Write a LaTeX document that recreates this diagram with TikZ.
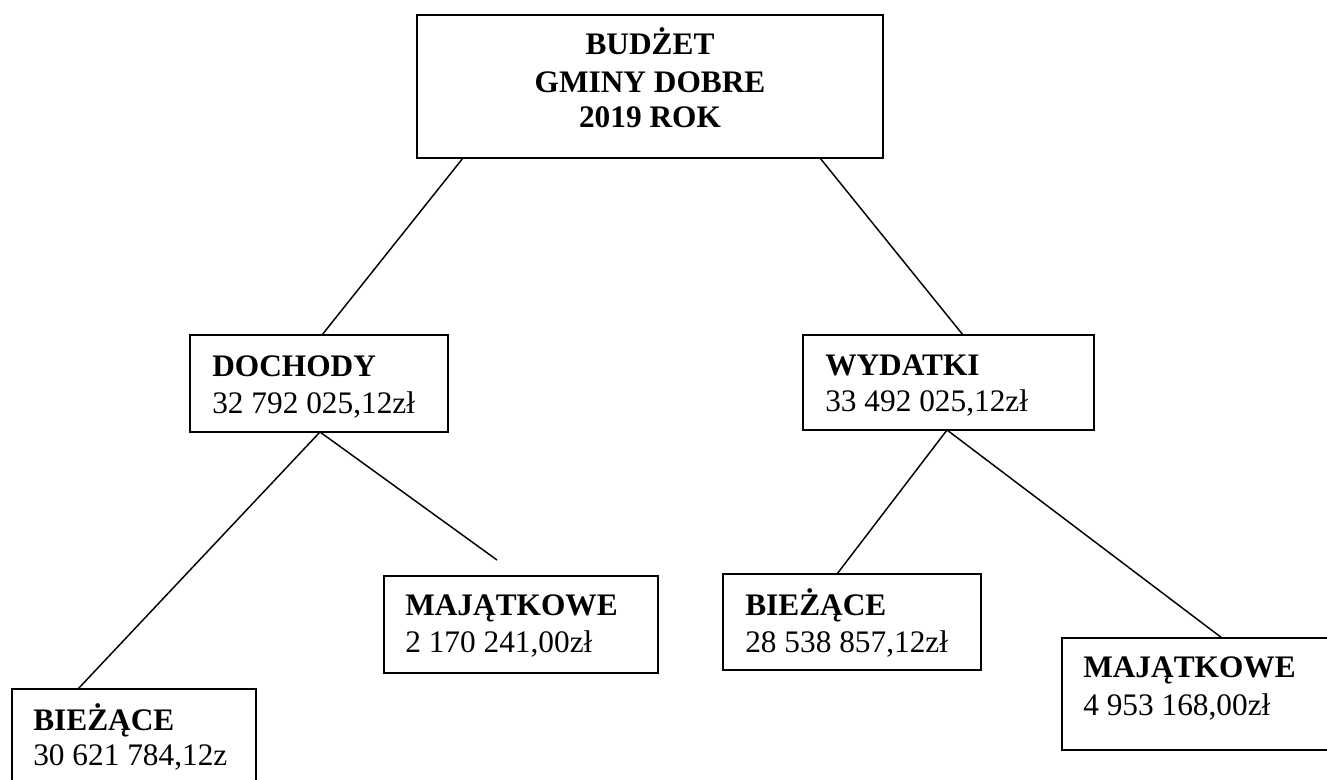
\documentclass[tikz,border=0pt]{standalone}
\usepackage{fontspec}
\setmainfont{Liberation Serif}
\usetikzlibrary{fit}
\begin{document}
\begin{tikzpicture}[x=0.75pt,y=-0.75pt,
  boxst/.style={draw, line width=1.3pt, inner sep=0pt, outer sep=0pt},
  conn/.style={line width=1.1pt},
  txt/.style={anchor=base west, inner sep=0pt, font=\fontsize{23.5}{27}\selectfont},
  btxt/.style={anchor=base west, inner sep=0pt, font=\fontsize{23.5}{27}\selectfont\bfseries},
  ctxt/.style={anchor=base, inner sep=0pt, font=\fontsize{23.5}{27}\selectfont\bfseries}]
\useasboundingbox (0,0) rectangle (1327,780);
\fill[white] (0,0) rectangle (1327,780);
\clip (0,0) rectangle (1327,780);
% boxes
\node[boxst, fit={(417,15)(883,158)}] (top) {};
\node[boxst, fit={(190,335)(448,432)}] (doch) {};
\node[boxst, fit={(803,335)(1094,430)}] (wyd) {};
\node[boxst, fit={(384,576)(658,673)}] (ml) {};
\node[boxst, fit={(723,574)(981,670)}] (br) {};
\node[boxst, fit={(1062,638)(1345,750)}] (mr) {};
\node[boxst, fit={(12,689)(256,805)}] (bl) {};
\coordinate (mlend) at (497,560);
% texts
\node[ctxt] (t1) at (650,55) {BUDŻET};
\node[ctxt] (t2) at (650,93) {GMINY DOBRE};
\node[ctxt] (t3) at (650,128) {2019 ROK};
\node[btxt] (d1) at (212,377) {DOCHODY};
\node[txt] (d2) at (212,413) {32 792 025,12zł};
\node[btxt] (w1) at (825,375) {WYDATKI};
\node[txt] (w2) at (825,411) {33 492 025,12zł};
\node[btxt] (ml1) at (405,615) {MAJĄTKOWE};
\node[txt] (ml2) at (405,652) {2 170 241,00zł};
\node[btxt] (br1) at (745,615) {BIEŻĄCE};
\node[txt] (br2) at (745,652) {28 538 857,12zł};
\node[btxt] (mr1) at (1083,677) {MAJĄTKOWE};
\node[txt] (mr2) at (1083,715) {4 953 168,00zł};
\node[btxt] (bl1) at (33,730) {BIEŻĄCE};
\node[txt] (bl2) at (33,765) {30 621 784,12z};
% connectors
\draw[conn] ([shift={(46,0)}]top.south west) -- ([shift={(132,0)}]doch.north west);
\draw[conn] ([shift={(403,0)}]top.south west) -- ([shift={(160,0)}]wyd.north west);
\draw[conn] ([shift={(130,0)}]doch.south west) -- ([shift={(66,0)}]bl.north west);
\draw[conn] ([shift={(130,0)}]doch.south west) -- (mlend);
\draw[conn] ([shift={(144,0)}]wyd.south west) -- ([shift={(114,0)}]br.north west);
\draw[conn] ([shift={(144,0)}]wyd.south west) -- ([shift={(160,0)}]mr.north west);
\end{tikzpicture}
\end{document}
